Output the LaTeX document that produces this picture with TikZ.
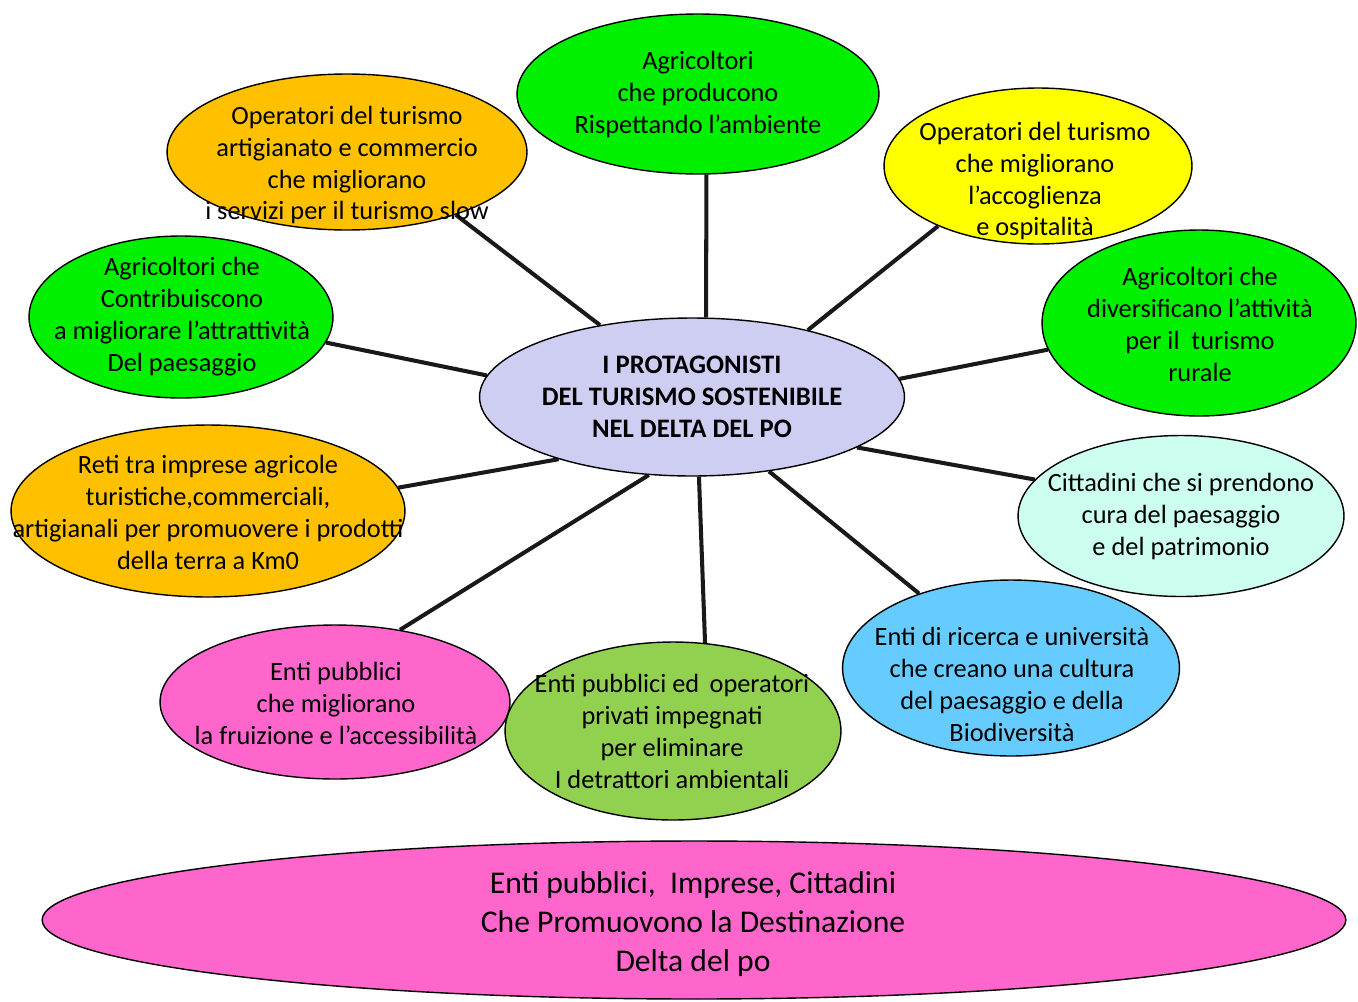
\documentclass[tikz,border=0pt]{standalone}
\usepackage{fontspec}
\setmainfont{Carlito}
\usetikzlibrary{shapes.geometric,backgrounds}
\definecolor{brightgreen}{RGB}{0,240,0}
\definecolor{gold}{RGB}{255,192,0}
\definecolor{lemon}{RGB}{255,255,0}
\definecolor{lavender}{RGB}{206,206,242}
\definecolor{mint}{RGB}{204,255,240}
\definecolor{rose}{RGB}{255,102,204}
\definecolor{leaf}{RGB}{146,208,80}
\definecolor{sky}{RGB}{102,204,255}

\begin{document}
\begin{tikzpicture}[x=0.02cm, y=-0.02cm,
    bubble/.style={ellipse, draw=black, line width=.8pt, inner sep=0pt},
    txt/.style={align=center, font=\fontsize{15}{18.2}\selectfont, inner sep=0pt},
    spoke/.style={line width=2.3pt, color=black!90}
  ]
  \useasboundingbox (0,0) rectangle (1358,1001);

  \node [bubble, fill=brightgreen, minimum width=7.24cm, minimum height=3.2cm] (agr) at (698,94) {};
  \node [txt] (agr-t) at (698,94) {Agricoltori\\che producono\\Rispettando l'ambiente};

  \node [bubble, fill=gold, minimum width=7.2cm, minimum height=3.12cm] (opa) at (347,152) {};
  \node [txt] (opa-t) at (347,165) {Operatori del turismo\\artigianato e commercio\\che migliorano\\i servizi per il turismo slow};

  \node [bubble, fill=lemon, minimum width=6.16cm, minimum height=3.12cm] (opt) at (1038,166) {};
  \node [txt] (opt-t) at (1035,181) {Operatori del turismo\\che migliorano\\l'accoglienza\\e ospitalità};

  \node [bubble, fill=brightgreen, minimum width=6.28cm, minimum height=3.72cm] (agd) at (1199,323) {};
  \node [txt] (agd-t) at (1200,324) {Agricoltori che\\diversificano l'attività\\per il\ \ turismo\\rurale};

  \node [bubble, fill=brightgreen, minimum width=6.08cm, minimum height=3.24cm] (agp) at (181,317) {};
  \node [txt] (agp-t) at (182,317) {Agricoltori che\\Contribuiscono\\a migliorare l'attrattività\\Del paesaggio};

  \node [bubble, fill=lavender, minimum width=8.5cm, minimum height=3.16cm] (c) at (692,397) {};
  \node [txt, font=\bfseries\fontsize{15.2}{18.2}\selectfont] (c-t) at (692,397) {I PROTAGONISTI\\DEL TURISMO SOSTENIBILE\\NEL DELTA DEL PO};

  \node [bubble, fill=gold, minimum width=7.88cm, minimum height=3.44cm] (reti) at (208,511) {};
  \node [txt] (reti-t) at (208,512) {Reti tra imprese agricole\\turistiche,commerciali,\\artigianali per promuovere i prodotti\\della terra a Km0};

  \node [bubble, fill=mint, minimum width=6.52cm, minimum height=3.22cm] (cit) at (1181,516) {};
  \node [txt] (cit-t) at (1181,516) {Cittadini che si prendono\\cura del paesaggio\\e del patrimonio};

  \node [bubble, fill=sky, minimum width=6.74cm, minimum height=3.52cm] (ric) at (1011,668) {};
  \node [txt] (ric-t) at (1012,684) {Enti di ricerca e università\\che creano una cultura\\del paesaggio e della\\Biodiversità};

  \node [bubble, fill=rose, minimum width=7.0cm, minimum height=3.08cm] (pub) at (335,702) {};
  \node [txt] (pub-t) at (336,703) {Enti pubblici\\che migliorano\\la fruizione e l'accessibilità};

  \node [bubble, fill=leaf, minimum width=6.72cm, minimum height=3.56cm] (det) at (673,731) {};
  \node [txt] (det-t) at (672,731) {Enti pubblici ed\ \,operatori\\privati impegnati\\per eliminare\\I detrattori ambientali};

  \node [bubble, fill=rose, minimum width=26.08cm, minimum height=3.16cm] (dest) at (694,920) {};
  \node [txt, font=\fontsize{18}{22}\selectfont] (dest-t) at (693,924) {Enti pubblici,\ \ Imprese, Cittadini\\Che Promuovono la Destinazione\\Delta del po};

  \begin{scope}[on background layer]
    \draw [spoke] (c.80) -- (agr.-84);
    \draw [spoke] (c.142) -- (opa.-30);
    \draw [spoke] (c.30) -- (opt.211);
    \draw [spoke] (c.174) -- (agp.-10);
    \draw [spoke] (c.5) -- (agd.190);
    \draw [spoke] (c.205) -- (reti.7);
    \draw [spoke] (c.-17) -- (cit.166);
    \draw [spoke] (c.241) -- (pub.48);
    \draw [spoke] (c.-85) -- (det.70);
    \draw [spoke] (c.-44) -- (ric.141);
  \end{scope}
\end{tikzpicture}
\end{document}
